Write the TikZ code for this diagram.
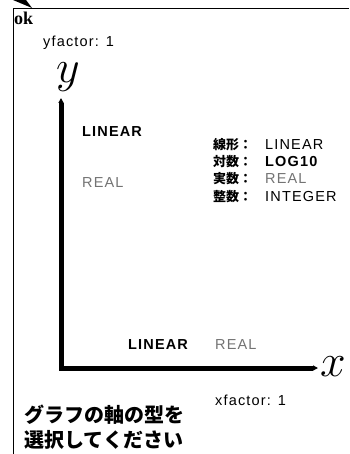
\RequirePackage{fix-cm}
\documentclass[tikz,border=0pt]{standalone}
\usepackage{fontspec}
\setmainfont{Liberation Sans}
\newfontfamily\serifok{Liberation Serif}
\newfontfamily\lab{Liberation Sans}[LetterSpace=8]
\newfontfamily\jp{Noto Sans CJK JP}
\usetikzlibrary{arrows.meta}
\begin{document}
\begin{tikzpicture}[x=1pt,y=-1pt,
  lbl/.style={inner sep=0pt, anchor=base west, font=\lab\fontsize{14.5}{14.5}\selectfont},
  lblb/.style={inner sep=0pt, anchor=base west, font=\lab\bfseries\fontsize{14.5}{14.5}\selectfont},
  greytext/.style={text=black!55},
  okst/.style={inner sep=0pt, anchor=base west, font=\serifok\bfseries\fontsize{18}{18}\selectfont},
  axlab/.style={inner sep=0pt, anchor=base west, font=\fontsize{46}{46}\selectfont},
  jpkey/.style={inner sep=0pt, anchor=base west, font=\jp\bfseries\fontsize{13}{13}\selectfont},
  jpbig/.style={inner sep=0pt, anchor=base west, font=\jp\bfseries\fontsize{20}{20}\selectfont},
  axisline/.style={line width=5pt, line join=miter, {Triangle[length=5pt,width=5pt]}-{Triangle[length=5pt,width=5pt]}},
  frameline/.style={line width=1.8pt}
]
\useasboundingbox (0,0) rectangle (349,454);
% frame and corner wedge
\draw[frameline] (349,8.5) -- (13.5,8.5) -- (13.5,454);
\fill (13,0) -- (26,0) -- (32,8) -- cycle;
% texts
\node[okst] (ok) at (14,25) {ok};
\node[lbl] (yf) at (43,47) {yfactor: 1};
\node[axlab] (ylab) at (56,83) {$y$};
\node[lblb] (ylin) at (82,137) {LINEAR};
\node[lbl,greytext] (yreal) at (82,187) {REAL};
% legend
\node[jpkey] (k1) at (213,150) {線形：};
\node[lbl] (v1) at (265,150) {LINEAR};
\node[jpkey] (k2) at (213,167) {対数：};
\node[lblb] (v2) at (265,167) {LOG10};
\node[jpkey] (k3) at (213,184) {実数：};
\node[lbl,greytext] (v3) at (265,184) {REAL};
\node[jpkey] (k4) at (213,201) {整数：};
\node[lbl] (v4) at (265,201) {INTEGER};
% axes
\coordinate (ytop) at (61,98);
\coordinate (origin) at (61,368);
\coordinate (xend) at (318,368);
\draw[axisline] (ytop) -- (origin) -- (xend);
\node[lblb] (xlin) at (128,349) {LINEAR};
\node[lbl,greytext] (xreal) at (215,349) {REAL};
\node[axlab] (xlab) at (320,376) {$x$};
\node[lbl] (xf) at (215,405) {xfactor: 1};
\node[jpbig] (msg1) at (24,422) {グラフの軸の型を};
\node[jpbig] (msg2) at (24,447) {選択してください};
\end{tikzpicture}
\end{document}
